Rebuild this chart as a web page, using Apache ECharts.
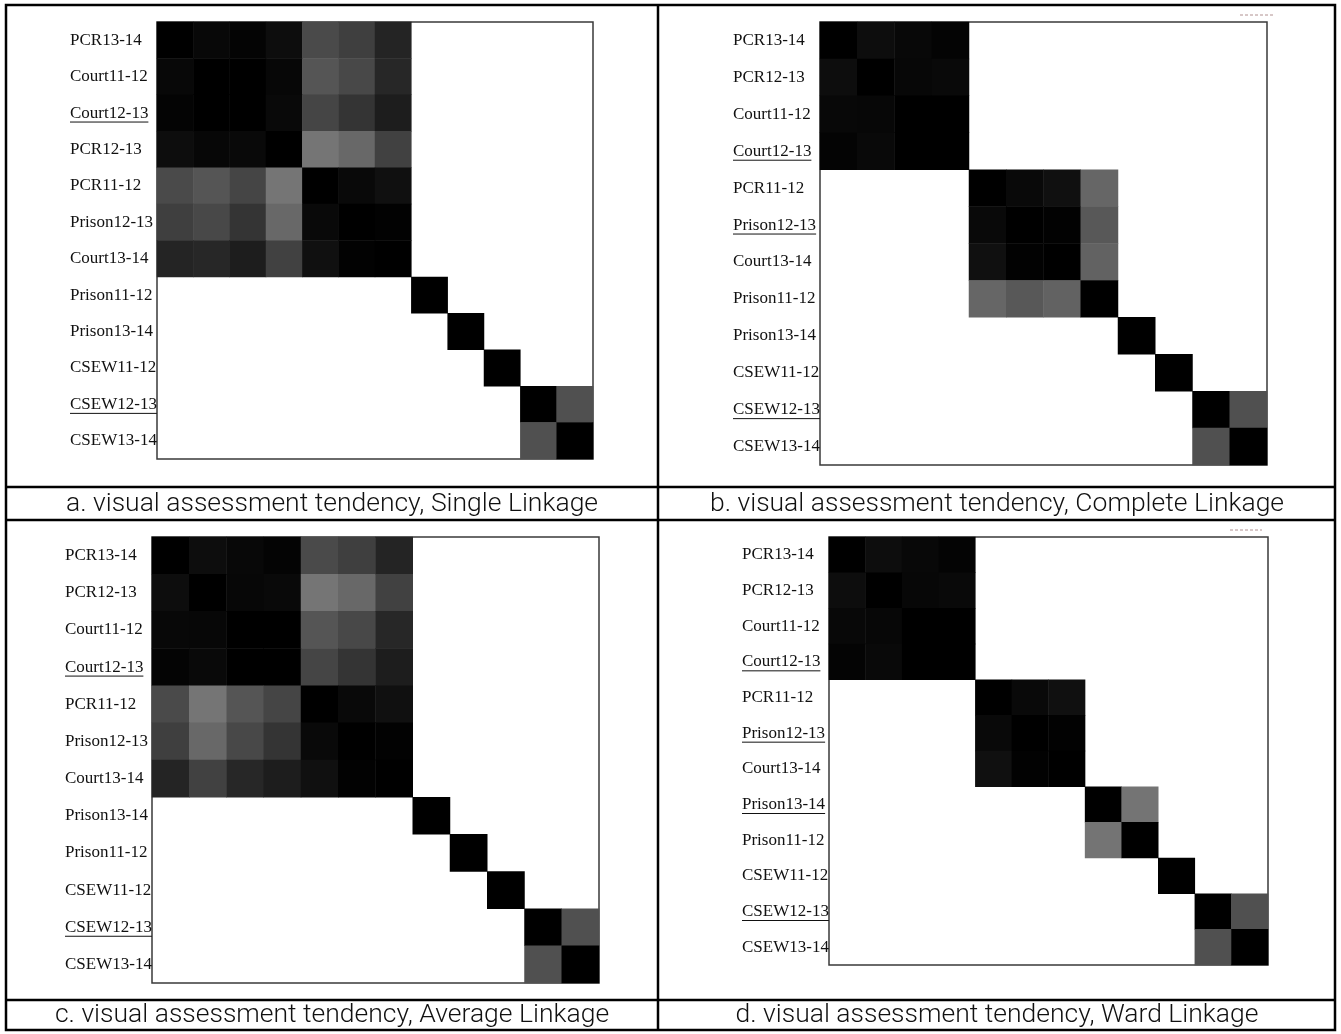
<!DOCTYPE html>
<html>
<head>
<meta charset="utf-8">
<script src="https://cdn.jsdelivr.net/npm/echarts@6/dist/echarts.min.js"></script>
<style>
  html, body { margin: 0; padding: 0; background: #fff; }
  #chart { width: 1341px; height: 1034px; }
</style>
</head>
<body>
<div id="chart"></div>
<script>
// Row / column ordering of the twelve crime series in each panel
const orderSingle = ['PCR13-14', 'Court11-12', 'Court12-13', 'PCR12-13', 'PCR11-12', 'Prison12-13',
  'Court13-14', 'Prison11-12', 'Prison13-14', 'CSEW11-12', 'CSEW12-13', 'CSEW13-14'];
const orderComplete = ['PCR13-14', 'PCR12-13', 'Court11-12', 'Court12-13', 'PCR11-12', 'Prison12-13',
  'Court13-14', 'Prison11-12', 'Prison13-14', 'CSEW11-12', 'CSEW12-13', 'CSEW13-14'];
const orderAverage = ['PCR13-14', 'PCR12-13', 'Court11-12', 'Court12-13', 'PCR11-12', 'Prison12-13',
  'Court13-14', 'Prison13-14', 'Prison11-12', 'CSEW11-12', 'CSEW12-13', 'CSEW13-14'];
const orderWard = ['PCR13-14', 'PCR12-13', 'Court11-12', 'Court12-13', 'PCR11-12', 'Prison12-13',
  'Court13-14', 'Prison13-14', 'Prison11-12', 'CSEW11-12', 'CSEW12-13', 'CSEW13-14'];

// Clusters found by each linkage method
const clustersSingle = [
  ['PCR13-14', 'Court11-12', 'Court12-13', 'PCR12-13', 'PCR11-12', 'Prison12-13', 'Court13-14'],
  ['Prison11-12'], ['Prison13-14'], ['CSEW11-12'], ['CSEW12-13', 'CSEW13-14']];
const clustersComplete = [
  ['PCR13-14', 'PCR12-13', 'Court11-12', 'Court12-13'],
  ['PCR11-12', 'Prison12-13', 'Court13-14', 'Prison11-12'],
  ['Prison13-14'], ['CSEW11-12'], ['CSEW12-13', 'CSEW13-14']];
const clustersAverage = [
  ['PCR13-14', 'PCR12-13', 'Court11-12', 'Court12-13', 'PCR11-12', 'Prison12-13', 'Court13-14'],
  ['Prison13-14'], ['Prison11-12'], ['CSEW11-12'], ['CSEW12-13', 'CSEW13-14']];
const clustersWard = [
  ['PCR13-14', 'PCR12-13', 'Court11-12', 'Court12-13'],
  ['PCR11-12', 'Prison12-13', 'Court13-14'],
  ['Prison13-14', 'Prison11-12'], ['CSEW11-12'], ['CSEW12-13', 'CSEW13-14']];

// Underlined row labels per panel
const underlinedSingle = ['Court12-13', 'CSEW12-13'];
const underlinedComplete = ['Court12-13', 'Prison12-13', 'CSEW12-13'];
const underlinedAverage = ['Court12-13', 'CSEW12-13'];
const underlinedWard = ['Court12-13', 'Prison12-13', 'Prison13-14', 'CSEW12-13'];

// Pairwise dissimilarity, as grey level (0 = black, 255 = white)
const pairLevels = [
  ['PCR13-14', 'Court11-12', 8], ['PCR13-14', 'Court12-13', 4], ['PCR13-14', 'PCR12-13', 13],
  ['PCR13-14', 'PCR11-12', 74], ['PCR13-14', 'Prison12-13', 63], ['PCR13-14', 'Court13-14', 36],
  ['Court11-12', 'Court12-13', 0], ['Court11-12', 'PCR12-13', 7], ['Court11-12', 'PCR11-12', 85],
  ['Court11-12', 'Prison12-13', 72], ['Court11-12', 'Court13-14', 39],
  ['Court12-13', 'PCR12-13', 9], ['Court12-13', 'PCR11-12', 69], ['Court12-13', 'Prison12-13', 52],
  ['Court12-13', 'Court13-14', 29],
  ['PCR12-13', 'PCR11-12', 117], ['PCR12-13', 'Prison12-13', 104], ['PCR12-13', 'Court13-14', 65],
  ['PCR11-12', 'Prison12-13', 9], ['PCR11-12', 'Court13-14', 16], ['Prison12-13', 'Court13-14', 2],
  ['PCR11-12', 'Prison11-12', 102], ['Prison12-13', 'Prison11-12', 88], ['Court13-14', 'Prison11-12', 98],
  ['Prison13-14', 'Prison11-12', 116],
  ['CSEW12-13', 'CSEW13-14', 80]
];

const captions = [
  'a. visual assessment tendency, Single Linkage',
  'b. visual assessment tendency, Complete Linkage',
  'c. visual assessment tendency, Average Linkage',
  'd. visual assessment tendency, Ward Linkage'
];

// ---- layout ----
const panels = [
  { order: orderSingle, clusters: clustersSingle, underlined: underlinedSingle, left: 157, top: 22, width: 436, height: 437 },
  { order: orderComplete, clusters: clustersComplete, underlined: underlinedComplete, left: 820, top: 22, width: 447, height: 443 },
  { order: orderAverage, clusters: clustersAverage, underlined: underlinedAverage, left: 152, top: 537, width: 447, height: 446 },
  { order: orderWard, clusters: clustersWard, underlined: underlinedWard, left: 829, top: 537, width: 439, height: 428 }
];
const LABEL_MARGIN = 87;
const LABEL_FONT_SIZE = 17;
const LABEL_FONT = 'Liberation Serif';

function level(a, b) {
  if (a === b) return 0;
  for (const p of pairLevels) {
    if ((p[0] === a && p[1] === b) || (p[0] === b && p[1] === a)) return p[2];
  }
  return 255;
}

function cells(panel) {
  const out = [];
  panel.clusters.forEach(group => {
    group.forEach(r => {
      group.forEach(c => {
        out.push([panel.order.indexOf(c), panel.order.indexOf(r), level(r, c)]);
      });
    });
  });
  return out;
}

const chart = echarts.init(document.getElementById('chart'), null, { renderer: 'canvas' });

const grids = [], xAxes = [], yAxes = [], series = [];
panels.forEach((p, i) => {
  grids.push({
    left: p.left, top: p.top, width: p.width, height: p.height,
    show: true, backgroundColor: '#fff', borderColor: '#3a3a3a', borderWidth: 1.5
  });
  xAxes.push({
    type: 'category', gridIndex: i, data: p.order, position: 'top',
    axisLine: { show: false }, axisTick: { show: false }, axisLabel: { show: false },
    splitLine: { show: false }
  });
  yAxes.push({
    type: 'category', gridIndex: i, data: p.order, inverse: true,
    axisLine: { show: false }, axisTick: { show: false }, splitLine: { show: false },
    axisLabel: {
      show: true, align: 'left', margin: LABEL_MARGIN, color: '#111',
      fontFamily: LABEL_FONT, fontSize: LABEL_FONT_SIZE
    }
  });
  series.push({
    type: 'heatmap', xAxisIndex: i, yAxisIndex: i, data: cells(p),
    itemStyle: { borderWidth: 0 }, emphasis: { disabled: true }, silent: true, progressive: 0
  });
});

// Table frame and captions
const frame = [
  { type: 'rect', shape: { x: 6, y: 5, width: 1329, height: 1025 }, style: { fill: null, stroke: '#000', lineWidth: 2.5 } },
  { type: 'line', shape: { x1: 658, y1: 5, x2: 658, y2: 1030 }, style: { stroke: '#000', lineWidth: 2.5 } },
  { type: 'line', shape: { x1: 6, y1: 487, x2: 1335, y2: 487 }, style: { stroke: '#000', lineWidth: 2.5 } },
  { type: 'line', shape: { x1: 6, y1: 520, x2: 1335, y2: 520 }, style: { stroke: '#000', lineWidth: 2.5 } },
  { type: 'line', shape: { x1: 6, y1: 1000, x2: 1335, y2: 1000 }, style: { stroke: '#000', lineWidth: 2.5 } },
  // small marks above the right-hand heatmaps
  { type: 'line', shape: { x1: 1240, y1: 15, x2: 1273, y2: 15 }, style: { stroke: '#b09090', lineWidth: 1, lineDash: [3, 2] } },
  { type: 'line', shape: { x1: 1230, y1: 530, x2: 1262, y2: 530 }, style: { stroke: '#b09090', lineWidth: 1, lineDash: [3, 2] } }
];
const captionPos = [[332, 504], [997, 504], [332, 1015], [997, 1015]];
captions.forEach((t, i) => {
  frame.push({
    type: 'text', x: captionPos[i][0], y: captionPos[i][1],
    style: {
      text: t, fill: '#111', font: '300 26.5px Roboto, "Liberation Sans", sans-serif',
      textAlign: 'center', textVerticalAlign: 'middle'
    }
  });
});

chart.setOption({
  animation: false,
  backgroundColor: '#fff',
  grid: grids, xAxis: xAxes, yAxis: yAxes, series: series,
  visualMap: {
    show: false, type: 'continuous', min: 0, max: 255, seriesIndex: [0, 1, 2, 3],
    inRange: { color: ['#000000', '#ffffff'] }
  },
  graphic: frame
});

// Underlines under the marked row labels
const measure = document.createElement('canvas').getContext('2d');
measure.font = LABEL_FONT_SIZE + 'px "' + LABEL_FONT + '"';
const underlines = [];
panels.forEach((p, i) => {
  p.underlined.forEach(name => {
    const y = chart.convertToPixel({ yAxisIndex: i }, name);
    const x0 = p.left - LABEL_MARGIN;
    const w = measure.measureText(name).width;
    underlines.push({
      type: 'line', shape: { x1: x0, y1: y + 9, x2: x0 + w, y2: y + 9 },
      style: { stroke: '#111', lineWidth: 1 }
    });
  });
});
chart.setOption({ graphic: frame.concat(underlines) });
</script>
</body>
</html>
